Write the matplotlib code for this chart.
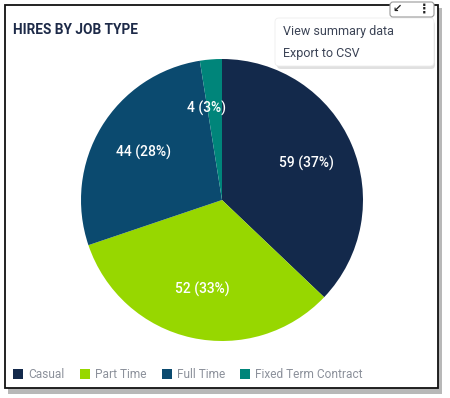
import matplotlib
matplotlib.use('Agg')
from matplotlib import pyplot as plt
from matplotlib.patches import Rectangle, FancyBboxPatch
import numpy as np

plt.rcParams['font.family'] = ['Roboto', 'DejaVu Sans']

# data
job_types = ['Casual', 'Part Time', 'Full Time', 'Fixed Term Contract']
hires = [59, 52, 44, 4]
pct_labels = ['37%', '33%', '28%', '3%']
colors = ['#13294b', '#97d700', '#0b4a6f', '#00857a']

W, H = 450, 398
fig = plt.figure(figsize=(W / 100, H / 100), dpi=100)
fig.patch.set_facecolor('white')

# background layer in pixel coords
bg = fig.add_axes([0, 0, 1, 1])
bg.set_xlim(0, W)
bg.set_ylim(H, 0)
bg.axis('off')

# card shadow + border
bg.add_patch(Rectangle((8, 8), 434, 386, facecolor='#b8b8b8', edgecolor='none', zorder=0))
bg.add_patch(Rectangle((5, 5), 433, 383, facecolor='white', edgecolor='#111111', lw=1.3, zorder=1))

bg.text(13, 30, 'HIRES BY JOB TYPE', fontsize=9.8, fontweight='bold', color='#1d2a48',
        va='center', ha='left', zorder=3)

# pie
cx, cy, r = 222, 200, 141
pie_ax = fig.add_axes([(cx - r) / W, 1 - (cy + r) / H, 2 * r / W, 2 * r / H])
wedges, _ = pie_ax.pie(hires, colors=colors, startangle=90, counterclock=False,
                       wedgeprops=dict(linewidth=0))
pie_ax.set_aspect('auto')
pie_ax.set_xlim(-1, 1)
pie_ax.set_ylim(-1, 1)

for w, n, p in zip(wedges, hires, pct_labels):
    ang = np.deg2rad((w.theta1 + w.theta2) / 2)
    dx = 0
    if n < 10:
        dx = -0.06
    pie_ax.text(0.65 * np.cos(ang) + dx, 0.65 * np.sin(ang), f'{n} ({p})',
                ha='center', va='center', color='white', fontsize=10, fontweight='medium')

# legend
leg_x = [13, 80, 162, 240]
for x, c, name in zip(leg_x, colors, job_types):
    bg.add_patch(Rectangle((x, 369), 10, 10, facecolor=c, edgecolor='none', zorder=3))
    bg.text(x + 15, 375, name, fontsize=8.6, color='#8c919b', va='center', ha='left', zorder=3)

# dropdown menu
over = fig.add_axes([0, 0, 1, 1])
over.set_xlim(0, W)
over.set_ylim(H, 0)
over.axis('off')
over.add_patch(FancyBboxPatch((277, 21), 158, 48, boxstyle='round,pad=0,rounding_size=4',
                              facecolor='#d9d9d9', edgecolor='none', alpha=0.8))
over.add_patch(FancyBboxPatch((275, 18), 159, 48, boxstyle='round,pad=0,rounding_size=4',
                              facecolor='white', edgecolor='#eeeeee', lw=0.6))
over.text(283, 31, 'View summary data', fontsize=9, color='#3c4456', va='center', ha='left')
over.text(283, 54, 'Export to CSV', fontsize=9, color='#3c4456', va='center', ha='left')

# icon box
over.add_patch(FancyBboxPatch((390, 2), 44, 15, boxstyle='round,pad=0,rounding_size=3',
                              facecolor='white', edgecolor='#9a9a9a', lw=0.8))
over.text(397, 9, '\u2199', fontsize=8, color='#222222', va='center', ha='center',
          family=['DejaVu Sans'], fontweight='bold')
over.text(424, 9, '\u22ee', fontsize=9, color='#222222', va='center', ha='center',
          family=['DejaVu Sans'], fontweight='bold')

plt.savefig('out.png', dpi=100)
